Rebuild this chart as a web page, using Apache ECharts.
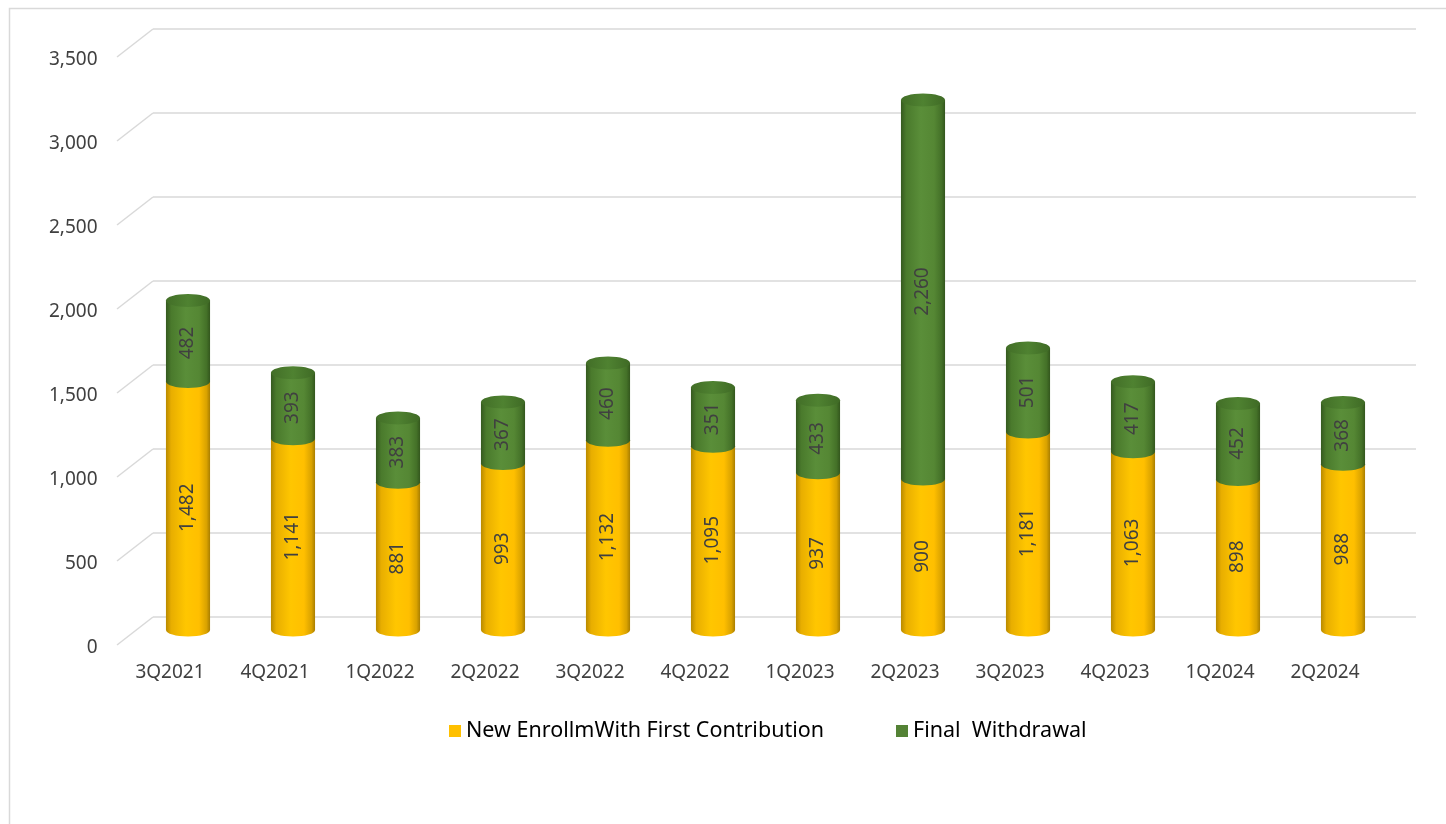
<!DOCTYPE html>
<html>
<head>
<meta charset="utf-8">
<script src="https://cdn.jsdelivr.net/npm/echarts@6/dist/echarts.min.js"></script>
<style>html,body{margin:0;padding:0;background:#fff;}#c{width:1446px;height:824px;}</style>
</head>
<body>
<div id="c"></div>
<script>
const categories = ['3Q2021','4Q2021','1Q2022','2Q2022','3Q2022','4Q2022','1Q2023','2Q2023','3Q2023','4Q2023','1Q2024','2Q2024'];
const enroll = [1482,1141,881,993,1132,1095,937,900,1181,1063,898,988];
const withdrawal = [482,393,383,367,460,351,433,2260,501,417,452,368];
const ticks = [0,500,1000,1500,2000,2500,3000,3500];
const seriesNames = ['New EnrollmWith First Contribution','Final  Withdrawal'];

const FONT = 'Noto Sans';
const yellowGrad = () => new echarts.graphic.LinearGradient(0,0,1,0,[
  {offset:0,color:'#B98A00'},{offset:0.12,color:'#E8AE00'},{offset:0.45,color:'#FFC600'},
  {offset:0.75,color:'#FFBF00'},{offset:0.92,color:'#D9A200'},{offset:1,color:'#A97E00'}]);
const greenGrad = () => new echarts.graphic.LinearGradient(0,0,1,0,[
  {offset:0,color:'#35591F'},{offset:0.12,color:'#4A7A2C'},{offset:0.45,color:'#5A8E39'},
  {offset:0.75,color:'#558734'},{offset:0.92,color:'#447128'},{offset:1,color:'#33561D'}]);
const greenTop = () => new echarts.graphic.LinearGradient(0,0,1,0,[
  {offset:0,color:'#426E27'},{offset:0.5,color:'#4F8231'},{offset:1,color:'#3F6A25'}]);

const chart = echarts.init(document.getElementById('c'), null, {renderer:'canvas'});

function fmt(v){ return v.toLocaleString('en-US'); }

function cylinderSegment(params, api, lowVal, highVal, fillFn, topFill, labelVal){
  const i = api.value(0);
  const pBase = api.coord([i, lowVal]);
  const pTop = api.coord([i, highVal]);
  const w = api.size([1,0])[0] * 0.42;
  const rx = w/2, ry = 6.5;
  const cx = pBase[0];
  const children = [
    {type:'ellipse', shape:{cx:cx, cy:pBase[1], rx:rx, ry:ry}, style:{fill:fillFn()}},
    {type:'rect', shape:{x:cx-rx, y:pTop[1], width:w, height:pBase[1]-pTop[1]}, style:{fill:fillFn()}}
  ];
  if (topFill) children.push({type:'ellipse', shape:{cx:cx, cy:pTop[1], rx:rx, ry:ry}, style:{fill:topFill()}});
  children.push({type:'text', x:cx, y:(pBase[1]+pTop[1])/2 + 2, rotation:Math.PI/2,
    style:{text:fmt(labelVal), fill:'#404040', font:'19px "'+FONT+'"', align:'center', verticalAlign:'middle'}});
  return {type:'group', children:children};
}

const option = {
  animation:false,
  backgroundColor:'#fff',
  graphic:[{type:'rect', left:7, top:6, shape:{width:1600, height:900}, style:{fill:'none', stroke:'#d9d9d9', lineWidth:1.5}, silent:true, z:-10}],
  grid:[
    {left:153, right:30, top:29, height:588},
    {left:135.5, width:1260, top:43, height:587},
    {left:117.5, width:1260, top:60, height:588}
  ],
  legend:{
    data:seriesNames, left:444, top:715, itemWidth:12, itemHeight:12, itemGap:72, icon:'rect',
    textStyle:{fontFamily:FONT, fontSize:21.5, color:'#000'}
  },
  xAxis:[
    {gridIndex:0, type:'category', data:categories, show:false},
    {gridIndex:1, type:'category', data:categories, show:false},
    {gridIndex:2, type:'category', data:categories, axisLine:{show:false}, axisTick:{show:false},
     axisLabel:{margin:15, fontFamily:FONT, fontSize:19, color:'#404040'}}
  ],
  yAxis:[
    {gridIndex:0, type:'value', min:0, max:3500, interval:500, axisLabel:{show:false}, axisLine:{show:false}, axisTick:{show:false},
     splitLine:{lineStyle:{color:'#d9d9d9', width:1.5}}},
    {gridIndex:1, type:'value', min:0, max:3500, interval:500, show:false, splitLine:{show:false}},
    {gridIndex:2, type:'value', min:0, max:3500, interval:500, axisLine:{show:false}, axisTick:{show:false}, splitLine:{show:false},
     axisLabel:{margin:20, fontFamily:FONT, fontSize:19, color:'#404040', formatter:v=>fmt(v)}}
  ],
  series:[
    {
      type:'custom', xAxisIndex:0, yAxisIndex:0, silent:true, z:1,
      data:ticks.map(t=>[0,t]),
      renderItem:function(params, api){
        const y = api.coord([0, api.value(1)])[1];
        const x0 = params.coordSys.x;
        return {type:'line', shape:{x1:x0, y1:y, x2:x0-36, y2:y+28}, style:{stroke:'#d9d9d9', lineWidth:1.5}};
      }
    },
    {
      name:seriesNames[0], type:'custom', xAxisIndex:1, yAxisIndex:1, z:3,
      itemStyle:{color:'#FFC000'},
      data:categories.map((c,i)=>[i, enroll[i], withdrawal[i]]),
      renderItem:function(params, api){
        const a = api.value(1);
        return cylinderSegment(params, api, 0, a, yellowGrad, null, a);
      }
    },
    {
      name:seriesNames[1], type:'custom', xAxisIndex:1, yAxisIndex:1, z:4,
      itemStyle:{color:'#548235'},
      data:categories.map((c,i)=>[i, enroll[i], withdrawal[i]]),
      renderItem:function(params, api){
        const a = api.value(1), b = api.value(2);
        return cylinderSegment(params, api, a, a+b, greenGrad, greenTop, b);
      }
    }
  ]
};
chart.setOption(option);
</script>
</body>
</html>
